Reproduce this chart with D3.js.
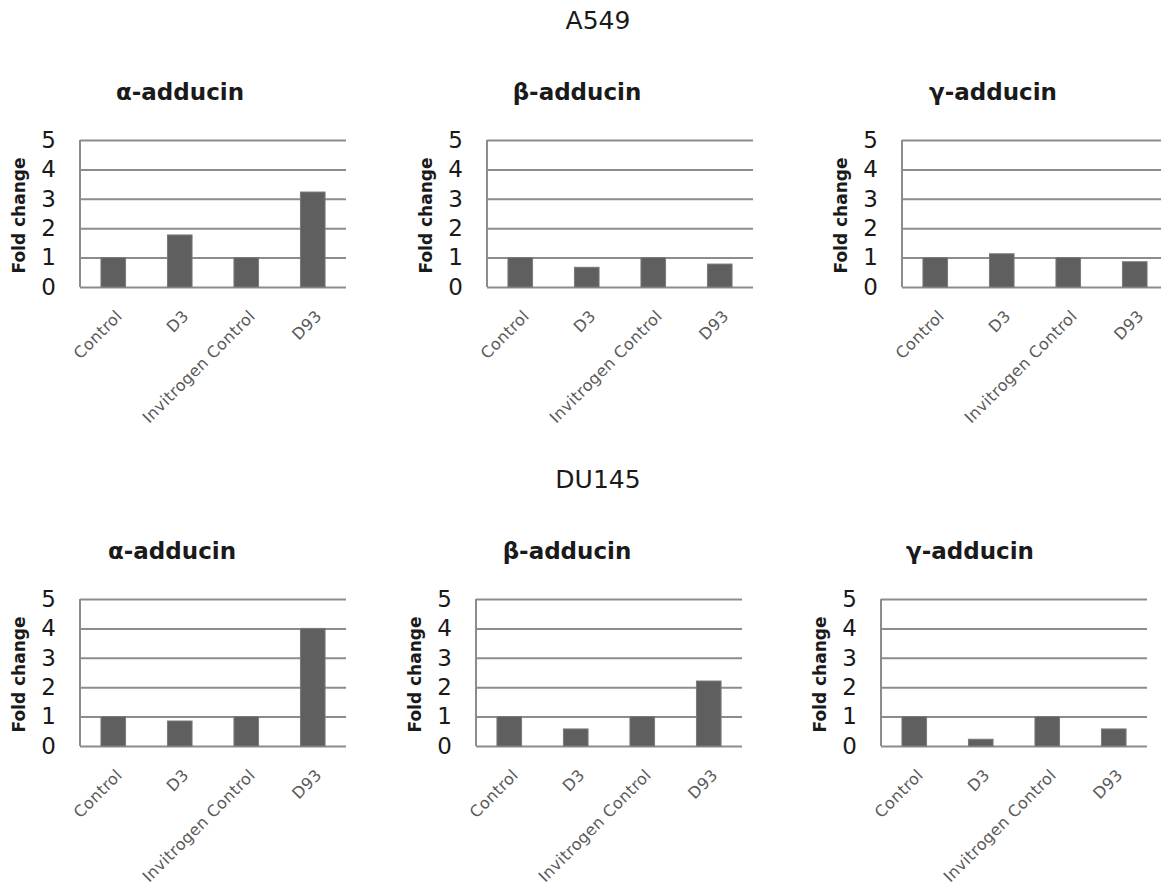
<!DOCTYPE html>
<html>
<head>
<meta charset="utf-8">
<script src="https://cdn.jsdelivr.net/npm/d3@7"></script>
<style>
  body { margin: 0; background: #fff; }
  svg { display: block; }
</style>
</head>
<body>
<svg id="chart" width="1161" height="891"></svg>
<script>
// ---------- data ----------
const categories = ["Control", "D3", "Invitrogen Control", "D93"];
const yTicks = [0, 1, 2, 3, 4, 5];
const sectionTitles = ["A549", "DU145"];
const geneTitles = ["α-adducin", "β-adducin", "γ-adducin"];
const yLabel = "Fold change";

const a549Alpha = [1, 1.77, 1, 3.23];
const a549Beta  = [1, 0.67, 1, 0.78];
const a549Gamma = [1, 1.13, 1, 0.86];
const du145Alpha = [1, 0.85, 1, 4.0];
const du145Beta  = [1, 0.58, 1, 2.21];
const du145Gamma = [1, 0.23, 1, 0.58];

const sectionSeries = [
  [a549Alpha, a549Beta, a549Gamma],
  [du145Alpha, du145Beta, du145Gamma]
];

// ---------- layout ----------
const plotW = 266, plotH = 147;
const rowLayout = [
  { titleY: 29, geneY: 100, plotTop: 140, lefts: [80, 487, 902], titleDx: [100, 90, 91] },
  { titleY: 488, geneY: 559, plotTop: 599, lefts: [80, 476, 881], titleDx: [92, 91, 89] }
];

const svg = d3.select("#chart");
svg.append("rect").attr("width", 1161).attr("height", 891).attr("fill", "#fff");

const x = d3.scaleBand().domain(categories).range([0, plotW]).paddingInner(0.63).paddingOuter(0.315);
const y = d3.scaleLinear().domain([0, 5]).range([plotH, 0]);

sectionSeries.forEach((panels, r) => {
  const L = rowLayout[r];
  svg.append("text")
    .attr("x", 598).attr("y", L.titleY)
    .attr("text-anchor", "middle")
    .attr("font-family", "DejaVu Sans")
    .attr("font-size", 25)
    .attr("fill", "#1a1a1a")
    .text(sectionTitles[r]);

  panels.forEach((vals, c) => {
    const g = svg.append("g").attr("transform", `translate(${L.lefts[c]},${L.plotTop})`);

    // gene title
    g.append("text")
      .attr("x", L.titleDx[c]).attr("y", L.geneY - L.plotTop)
      .attr("text-anchor", "middle")
      .attr("font-family", "DejaVu Sans")
      .attr("font-weight", "bold")
      .attr("font-size", 23)
      .attr("fill", "#1a1a1a")
      .text(geneTitles[c]);

    // y axis with gridlines
    const ya = g.append("g")
      .call(d3.axisLeft(y).tickValues(yTicks).tickFormat(d3.format("d")).tickSize(-plotW).tickPadding(24));
    ya.select(".domain").remove();
    ya.selectAll(".tick line").attr("stroke", "#8c8c8c").attr("stroke-width", 2);
    ya.selectAll(".tick text")
      .attr("font-family", "DejaVu Sans")
      .attr("font-size", 23)
      .attr("fill", "#1a1a1a");

    // left axis line
    g.append("line")
      .attr("x1", 0).attr("x2", 0).attr("y1", y(5)).attr("y2", y(0))
      .attr("stroke", "#8c8c8c").attr("stroke-width", 2);

    // bars
    g.selectAll("rect.bar").data(vals).enter().append("rect")
      .attr("class", "bar")
      .attr("x", (d, i) => x(categories[i]))
      .attr("width", x.bandwidth())
      .attr("y", d => y(d))
      .attr("height", d => y(0) - y(d))
      .attr("fill", "#5f5f5f")
      .attr("stroke", "#7a7a7a")
      .attr("stroke-width", 1);

    // x axis labels
    const xa = g.append("g").attr("transform", `translate(0,${plotH})`)
      .call(d3.axisBottom(x).tickSize(0).tickPadding(0));
    xa.select(".domain").remove();
    xa.selectAll(".tick text")
      .attr("font-family", "DejaVu Sans")
      .attr("font-size", 16)
      .attr("letter-spacing", 0.4)
      .attr("fill", "#5a5a5a")
      .attr("text-anchor", "end")
      .attr("dy", 0)
      .attr("transform", "translate(10,30) rotate(-45)");

    // y label
    g.append("text")
      .attr("transform", `translate(-55,${plotH / 2 + 2}) rotate(-90)`)
      .attr("text-anchor", "middle")
      .attr("font-family", "DejaVu Sans")
      .attr("font-weight", "bold")
      .attr("font-size", 17)
      .attr("fill", "#1a1a1a")
      .text(yLabel);
  });
});
</script>
</body>
</html>
